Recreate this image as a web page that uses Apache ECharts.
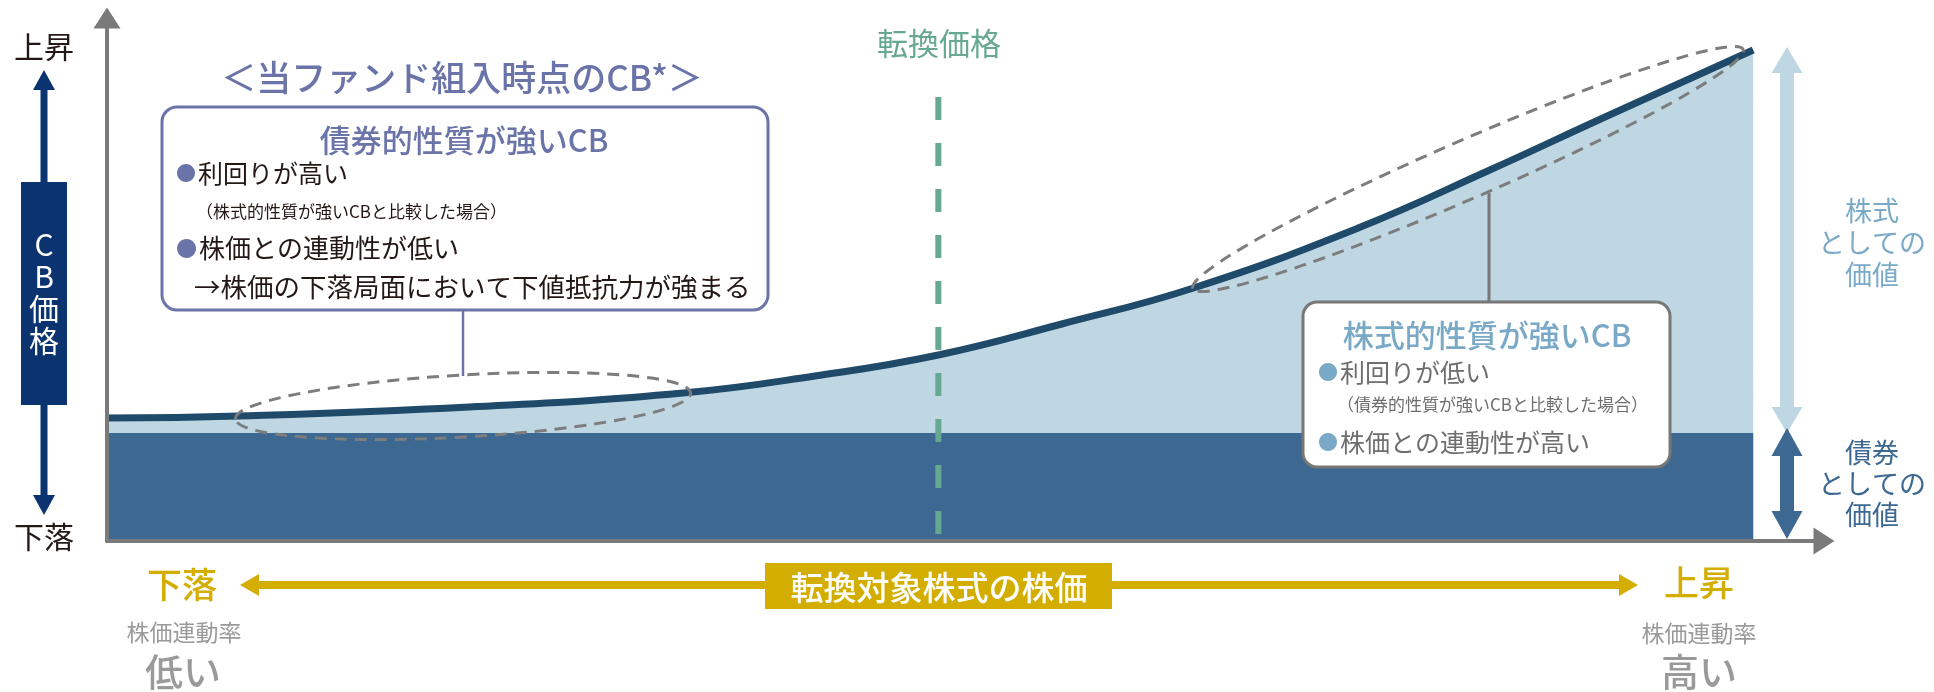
<!DOCTYPE html>
<html>
<head>
<meta charset="utf-8">
<script src="https://cdn.jsdelivr.net/npm/echarts@6/dist/echarts.min.js"></script>
<style>
html,body{margin:0;padding:0;background:#fff;}
#chart{width:1934px;height:692px;}
</style>
</head>
<body>
<div id="chart"></div>
<script>
// ---- data ----
const stockPriceX = [0, 8, 22, 35, 43, 50.5, 58, 66, 76, 84, 91, 100];
const cbPrice     = [24.6, 25, 26.8, 29.6, 33, 37.2, 43.4, 50.6, 62.6, 74.2, 84.8, 98.2];
const bondFloorX  = [0, 100];
const bondFloor   = [21.6, 21.6];
const conversionX = [50.5, 50.5];
const conversionY = [88.8, 0];
const yEndLabels  = ['上昇', '下落'];
const xEndLabels  = ['下落', '上昇'];
const linkLabels  = ['低い', '高い'];

const FONT = '"Noto Sans CJK JP", "Noto Sans", sans-serif';
const f = (s, w) => (w ? w + ' ' : '') + s + 'px ' + FONT;

const curveData = stockPriceX.map((x, i) => [x, cbPrice[i]]);
const floorData = bondFloorX.map((x, i) => [x, bondFloor[i]]);
const convData  = conversionX.map((x, i) => [x, conversionY[i]]);

const C = {
  axis: '#7a7a7a', curve: '#1f4a6a', light: '#bed7e3', dark: '#3c6891',
  green: '#66a891', purple: '#6a74a8', sky: '#79a9c6', navy: '#0b3370',
  yellow: '#d3ae00', grayTxt: '#9a9a9a', ink: '#231815', boxGray: '#777777'
};

function txt(x, y, text, size, fill, align, weight, extra) {
  return Object.assign({
    type: 'text', x: x, y: y, z: 100,
    style: { text: text, fill: fill, font: f(size, weight), align: align || 'center', verticalAlign: 'middle' }
  }, extra || {});
}
function bullet(x, y, text, size, bulletColor, textColor) {
  return {
    type: 'text', x: x, y: y, z: 100,
    style: {
      text: '{b|●}{t|' + text + '}', align: 'left', verticalAlign: 'middle',
      rich: {
        b: { fill: bulletColor, font: f(Math.round(size * 0.8)), padding: [0, 2, 0, 0] },
        t: { fill: textColor, font: f(size) }
      }
    }
  };
}
function vArrow(cx, yTop, yBot, shaftW, headW, headH, color, both, upOnly) {
  const els = [];
  const hasUp = both || upOnly;
  const hasDown = both || !upOnly;
  const s0 = hasUp ? yTop + headH : yTop;
  const s1 = hasDown ? yBot - headH : yBot;
  els.push({ type: 'rect', z: 100, shape: { x: cx - shaftW / 2, y: s0 - 0.5, width: shaftW, height: s1 - s0 + 1 }, style: { fill: color } });
  if (hasUp) els.push({ type: 'polygon', z: 100, shape: { points: [[cx - headW / 2, yTop + headH], [cx + headW / 2, yTop + headH], [cx, yTop]] }, style: { fill: color } });
  if (hasDown) els.push({ type: 'polygon', z: 100, shape: { points: [[cx - headW / 2, yBot - headH], [cx + headW / 2, yBot - headH], [cx, yBot]] }, style: { fill: color } });
  return els;
}
function hArrow(y, xL, xR, thick, headW, headH, color) {
  return [
    { type: 'rect', z: 100, shape: { x: xL + headH - 0.5, y: y - thick / 2, width: xR - xL - 2 * headH + 1, height: thick }, style: { fill: color } },
    { type: 'polygon', z: 100, shape: { points: [[xL, y], [xL + headH, y - headW / 2], [xL + headH, y + headW / 2]] }, style: { fill: color } },
    { type: 'polygon', z: 100, shape: { points: [[xR, y], [xR - headH, y - headW / 2], [xR - headH, y + headW / 2]] }, style: { fill: color } }
  ];
}

const graphics = [].concat(
  // left CB price indicator
  [txt(44, 47, yEndLabels[0], 30, C.ink)],
  vArrow(44, 70, 185, 7, 22, 20, C.navy, false, true),
  [{ type: 'rect', z: 100, shape: { x: 21, y: 182, width: 46, height: 223 }, style: { fill: C.navy } },
   { type: 'text', x: 44, y: 293, z: 101, style: { text: 'C\nB\n価\n格', fill: '#ffffff', font: f(30), align: 'center', verticalAlign: 'middle', lineHeight: 32 } }],
  vArrow(44, 402, 515, 7, 22, 20, C.navy, false, false),
  [txt(44, 537, yEndLabels[1], 30, C.ink)],

  // title
  [txt(462, 78, '＜当ファンド組入時点のCB*＞', 35, C.purple, 'center', 500)],

  // left box
  [{ type: 'rect', z: 99, shape: { x: 162, y: 107, width: 606, height: 203, r: 15 }, style: { fill: '#ffffff', stroke: C.purple, lineWidth: 3 } },
   txt(464, 140, '債券的性質が強いCB', 31, C.purple, 'center', 500),
   bullet(176, 173, '利回りが高い', 25, C.purple, C.ink),
   txt(196, 212, '（株式的性質が強いCBと比較した場合）', 17, C.ink, 'left'),
   bullet(176, 248, '株価との連動性が低い', 26, C.purple, C.ink),
   txt(194, 287, '→株価の下落局面において下値抵抗力が強まる', 26.5, C.ink, 'left'),
   { type: 'line', z: 99, shape: { x1: 463, y1: 310, x2: 463, y2: 376 }, style: { stroke: C.purple, lineWidth: 2.5 } },
   { type: 'ellipse', z: 100, x: 463, y: 406, rotation: 0.057, shape: { cx: 0, cy: 0, rx: 228, ry: 31 }, style: { fill: null, stroke: '#7d7d7d', lineWidth: 3, lineDash: [12, 8] } }
  ],

  // conversion price label
  [txt(939, 43, '転換価格', 31, C.green)],

  // right ellipse + box
  [{ type: 'ellipse', z: 100, x: 1468, y: 169, rotation: 0.41, shape: { cx: 0, cy: 0, rx: 300, ry: 29 }, style: { fill: null, stroke: '#7d7d7d', lineWidth: 3, lineDash: [12, 8] } },
   { type: 'line', z: 99, shape: { x1: 1489, y1: 193, x2: 1489, y2: 302 }, style: { stroke: C.boxGray, lineWidth: 3 } },
   { type: 'rect', z: 99, shape: { x: 1303, y: 302, width: 367, height: 165, r: 14 }, style: { fill: '#ffffff', stroke: C.boxGray, lineWidth: 3 } },
   txt(1487, 335, '株式的性質が強いCB', 31, C.sky, 'center', 500),
   bullet(1318, 372, '利回りが低い', 25, C.sky, '#6e6e6e'),
   txt(1337, 405, '（債券的性質が強いCBと比較した場合）', 17, '#6e6e6e', 'left'),
   bullet(1318, 442, '株価との連動性が高い', 25, C.sky, '#6e6e6e')
  ],

  // right value arrows
  vArrow(1787, 47, 433, 14, 31, 26, C.light, true),
  vArrow(1787, 428, 539, 14, 31, 28, C.dark, true),
  [{ type: 'text', x: 1872, y: 243, z: 100, style: { text: '株式\nとしての\n価値', fill: '#7aaac8', font: f(27), align: 'center', verticalAlign: 'middle', lineHeight: 32 } },
   { type: 'text', x: 1872, y: 484, z: 100, style: { text: '債券\nとしての\n価値', fill: C.dark, font: f(27), align: 'center', verticalAlign: 'middle', lineHeight: 31 } }],

  // bottom stock price arrow
  hArrow(585, 240, 1638, 8, 22, 19, C.yellow),
  [{ type: 'rect', z: 101, shape: { x: 765, y: 563, width: 347, height: 46 }, style: { fill: C.yellow } },
   Object.assign(txt(939, 587, '転換対象株式の株価', 33, '#ffffff', 'center', 500), { z: 102 }),
   txt(182, 585, xEndLabels[0], 35, C.yellow, 'center', 500),
   txt(1699, 583, xEndLabels[1], 35, C.yellow, 'center', 500),
   txt(184, 632, '株価連動率', 23, C.grayTxt),
   txt(1699, 633, '株価連動率', 23, C.grayTxt),
   txt(183, 672, linkLabels[0], 38, C.grayTxt, 'center', 500),
   txt(1699, 672, linkLabels[1], 38, C.grayTxt, 'center', 500)]
);

const chart = echarts.init(document.getElementById('chart'), null, { renderer: 'canvas' });
chart.setOption({
  animation: false,
  backgroundColor: '#ffffff',
  grid: { left: 107, right: 110, top: 18, bottom: 151 },
  xAxis: {
    type: 'value', min: 0, max: 104.3, z: 10,
    axisLine: { show: true, symbol: ['none', 'triangle'], symbolSize: [27, 21], lineStyle: { color: C.axis, width: 4 } },
    axisTick: { show: false }, axisLabel: { show: false }, splitLine: { show: false }
  },
  yAxis: {
    type: 'value', min: 0, max: 104.6, z: 10,
    axisLine: { show: true, symbol: ['none', 'triangle'], symbolSize: [27, 21], lineStyle: { color: C.axis, width: 4 } },
    axisTick: { show: false }, axisLabel: { show: false }, splitLine: { show: false }
  },
  series: [
    {
      name: 'CB価格', type: 'line', data: curveData, smooth: 0.45, showSymbol: false,
      lineStyle: { color: C.curve, width: 7 },
      areaStyle: { color: C.light, opacity: 1 }, z: 2
    },
    {
      name: '債券としての価値', type: 'line', data: floorData, showSymbol: false,
      lineStyle: { width: 0 }, areaStyle: { color: C.dark, opacity: 1 }, z: 3
    },
    {
      name: '転換価格', type: 'line', data: convData, showSymbol: false,
      lineStyle: { color: C.green, width: 6, type: [23, 23] }, z: 4
    }
  ],
  graphic: { elements: graphics }
});
</script>
</body>
</html>
